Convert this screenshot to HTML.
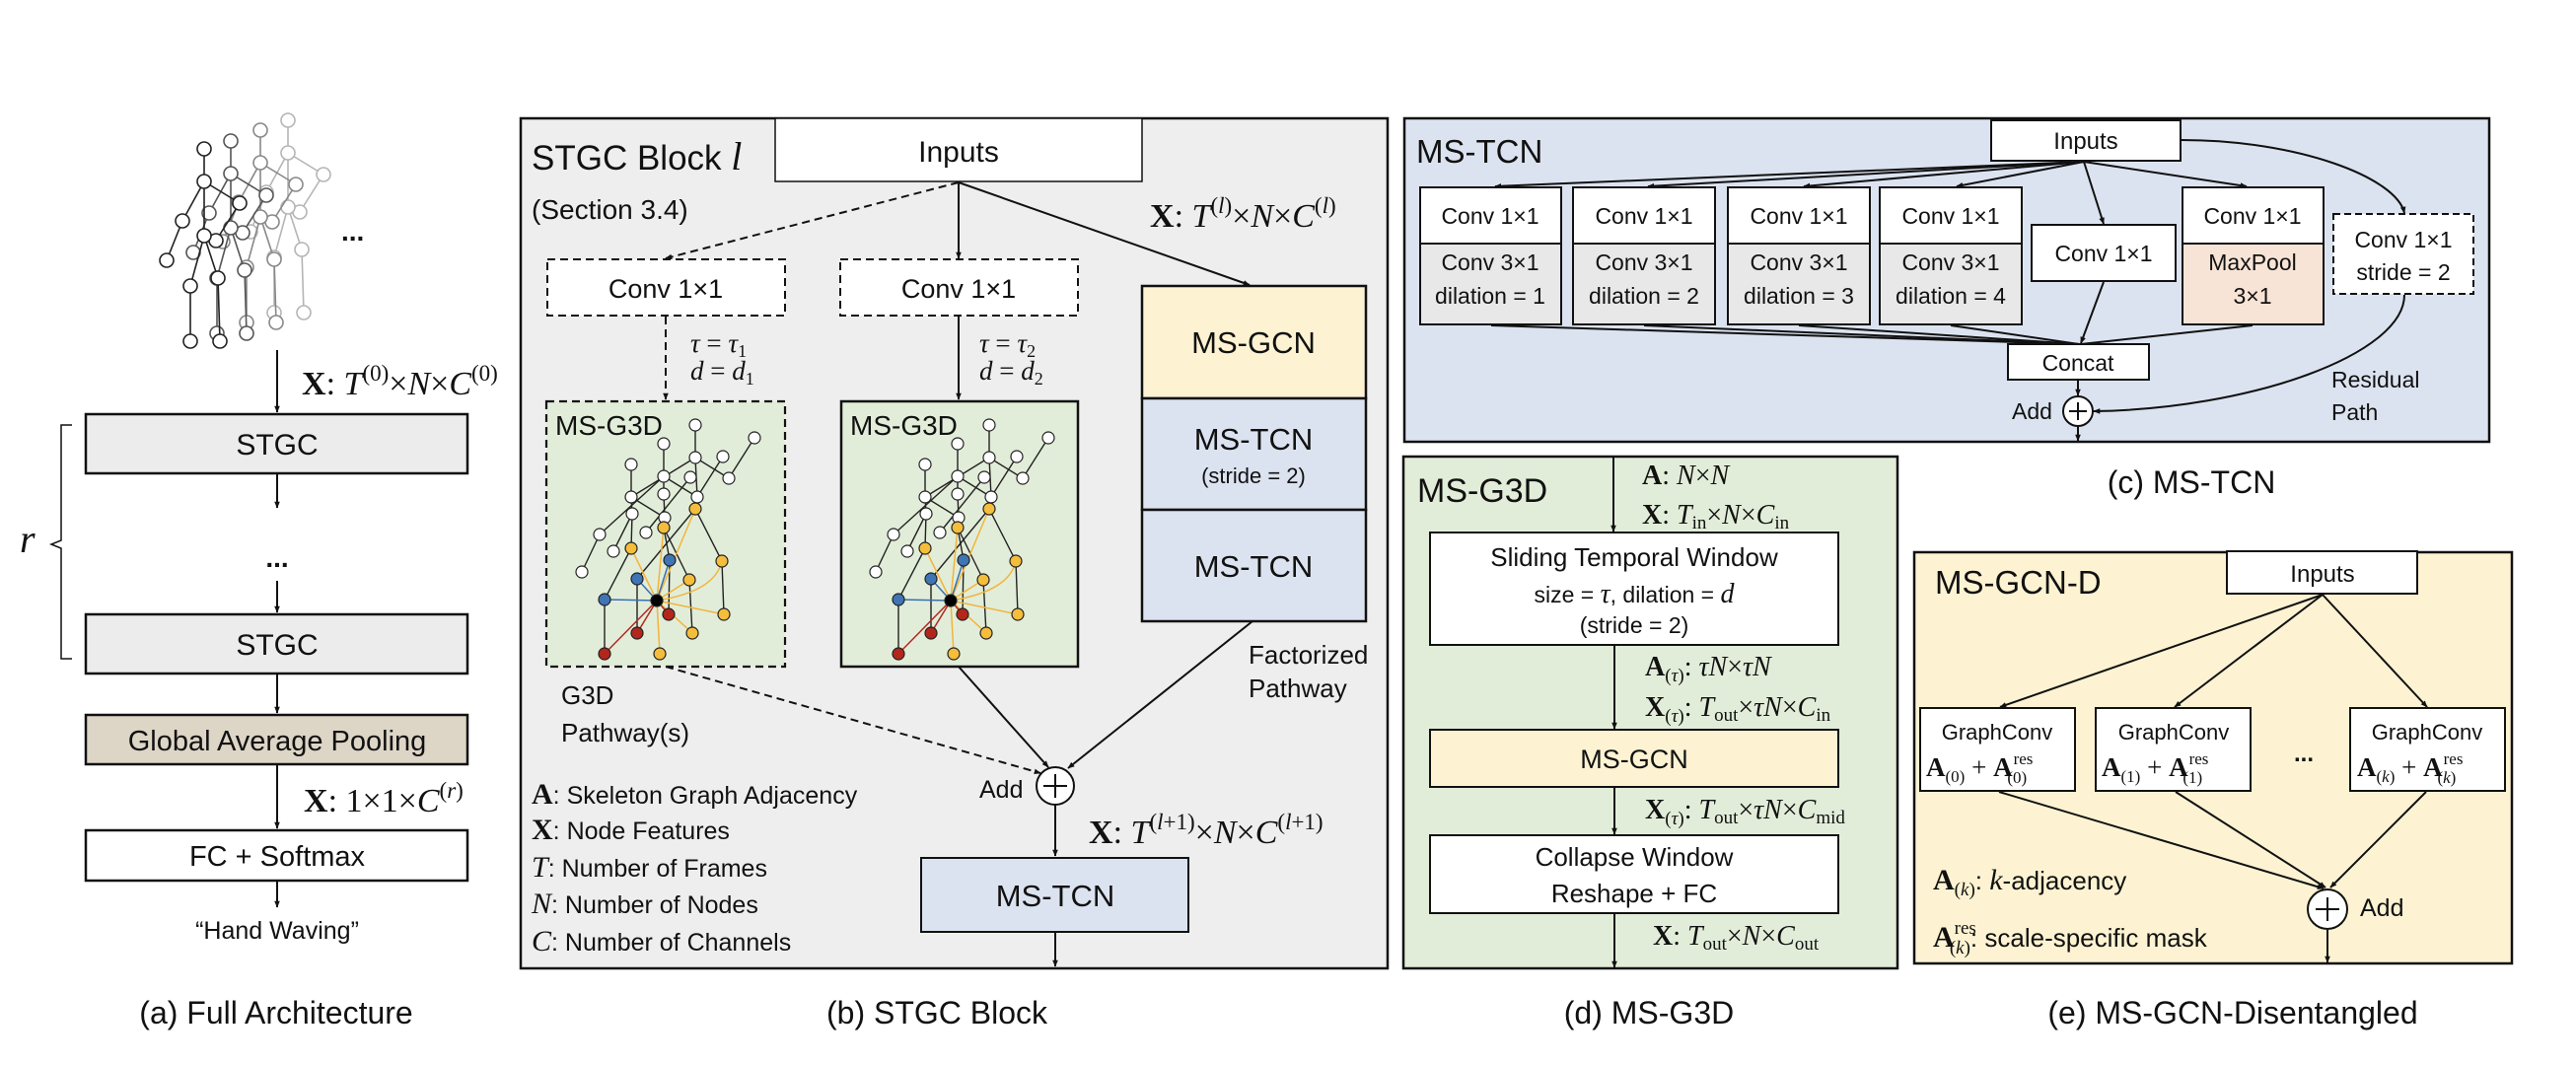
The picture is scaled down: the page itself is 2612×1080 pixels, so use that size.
<!DOCTYPE html>
<html><head><meta charset="utf-8"><style>
html,body{margin:0;padding:0;background:#fff}
svg{display:block}
text{font-family:"Liberation Sans",sans-serif;fill:#111}
.m{font-family:"Liberation Serif",serif;font-style:italic}
.b{font-family:"Liberation Serif",serif;font-weight:bold;font-style:normal}
.r{font-family:"Liberation Serif",serif;font-style:normal}
</style></head><body>
<svg width="2612" height="1080" viewBox="0 0 2612 1080" xmlns="http://www.w3.org/2000/svg">
<defs>
<marker id="a" viewBox="0 0 10 10" refX="9" refY="5" markerWidth="7" markerHeight="7" orient="auto" markerUnits="userSpaceOnUse"><path d="M0,1 L10,5 L0,9 z" fill="#111"/></marker>
<g id="fig">
<g stroke-width="1.6" fill="none">
<line x1="0" y1="-33" x2="0" y2="0"/><line x1="0" y1="0" x2="-22" y2="40"/><line x1="-22" y1="40" x2="-38" y2="80"/>
<line x1="0" y1="0" x2="36" y2="22"/><line x1="0" y1="0" x2="0" y2="55"/>
<line x1="0" y1="55" x2="-14" y2="106"/><line x1="-14" y1="106" x2="-14" y2="162"/>
<line x1="0" y1="55" x2="14" y2="98"/><line x1="14" y1="98" x2="16" y2="162"/>
<line x1="36" y1="22" x2="12" y2="60"/>
</g>
<g fill="#fff" stroke-width="1.6">
<circle cx="0" cy="-33" r="7"/><circle cx="0" cy="0" r="7"/><circle cx="-22" cy="40" r="7"/><circle cx="-38" cy="80" r="7"/><circle cx="36" cy="22" r="7"/><circle cx="12" cy="60" r="7"/><circle cx="0" cy="55" r="7"/><circle cx="-14" cy="106" r="7"/><circle cx="-14" cy="162" r="7"/><circle cx="14" cy="98" r="7"/><circle cx="16" cy="162" r="7"/>
</g>
</g>
<g id="g3d">
<g stroke="#222" stroke-width="1.4" fill="none">
<path d="M705,431 L705,464 L739,485 L765,444"/><path d="M705,464 L640,504"/><path d="M705,464 L707,504"/><path d="M733,463 L707,504"/>
<path d="M673,450 L673,483 L673,501 L674,525"/><path d="M673,483 L707,504"/><path d="M673,483 L608,542 L590,580"/><path d="M700,484 L655,540"/>
<path d="M640,471 L640,504 L641,521 L640,556"/><path d="M640,504 L674,525"/><path d="M641,521 L622,559"/>
<path d="M707,504 L705,516 L732,569 L734,623"/><path d="M674,525 L673,535 L699,588 L702,642"/><path d="M705,516 L646,587"/>
<path d="M640,556 L613,608 L613,663"/><path d="M679,568 L678,623"/><path d="M646,587 L646,642"/><path d="M673,535 L679,568"/>
</g>
<g stroke="#f2b43a" stroke-width="1.5" fill="none">
<path d="M666,609 L705,516 M666,609 L673,535 M666,609 L640,556 M666,609 Q725,600 732,569 M666,609 L699,588 M666,609 L734,623 M666,609 L702,642 M666,609 L669,663"/>
</g>
<g stroke="#3a6fb0" stroke-width="1.5"><path d="M666,609 L679,568 M666,609 L646,587 M666,609 L613,608"/></g>
<g stroke="#b02a20" stroke-width="1.5"><path d="M666,609 L678,623 M666,609 L646,642 M666,609 L613,663"/></g>
<g stroke="#222" stroke-width="1.2">
<g fill="#fff"><circle cx="705" cy="431" r="6"/><circle cx="673" cy="450" r="6"/><circle cx="765" cy="444" r="6"/><circle cx="640" cy="471" r="6"/><circle cx="705" cy="464" r="6"/><circle cx="733" cy="463" r="6"/><circle cx="739" cy="485" r="6"/><circle cx="673" cy="483" r="6"/><circle cx="700" cy="484" r="6"/><circle cx="640" cy="504" r="6"/><circle cx="673" cy="501" r="6"/><circle cx="707" cy="504" r="6"/><circle cx="641" cy="521" r="6"/><circle cx="674" cy="525" r="6"/><circle cx="608" cy="542" r="6"/><circle cx="655" cy="540" r="6"/><circle cx="622" cy="559" r="6"/><circle cx="590" cy="580" r="6"/></g>
<g fill="#f5bd3c"><circle cx="705" cy="516" r="6"/><circle cx="673" cy="535" r="6"/><circle cx="640" cy="556" r="6"/><circle cx="732" cy="569" r="6"/><circle cx="699" cy="588" r="6"/><circle cx="734" cy="623" r="6"/><circle cx="702" cy="642" r="6"/><circle cx="669" cy="663" r="6"/></g>
<g fill="#3f74b5"><circle cx="679" cy="568" r="6"/><circle cx="646" cy="587" r="6"/><circle cx="613" cy="608" r="6"/></g>
<g fill="#b3261c"><circle cx="678" cy="623" r="6"/><circle cx="646" cy="642" r="6"/><circle cx="613" cy="663" r="6"/></g>
<circle cx="666" cy="609" r="6" fill="#000"/>
</g>
</g>
</defs>

<!-- ========== (a) ========== -->
<use href="#fig" x="292" y="155" stroke="#b5b5b5"/>
<use href="#fig" x="264" y="165" stroke="#888"/>
<use href="#fig" x="234" y="176" stroke="#555"/>
<use href="#fig" x="207" y="184" stroke="#222"/>
<text x="346" y="244" font-size="28" font-weight="bold">...</text>
<g stroke="#111" stroke-width="2" fill="none">
<line x1="281" y1="355" x2="281" y2="418" marker-end="url(#a)"/>
<line x1="281" y1="481" x2="281" y2="515" marker-end="url(#a)"/>
<line x1="281" y1="589" x2="281" y2="621" marker-end="url(#a)"/>
<line x1="281" y1="684" x2="281" y2="723" marker-end="url(#a)"/>
<line x1="281" y1="776" x2="281" y2="840" marker-end="url(#a)"/>
<line x1="281" y1="894" x2="281" y2="920" marker-end="url(#a)"/>
<path d="M73,431 L62,431 L62,548 L52,552 L62,556 L62,668 L73,668" stroke-width="1.5"/>
</g>
<text x="306" y="400" font-size="34"><tspan class="b">X</tspan><tspan class="r">: </tspan><tspan class="m">T</tspan><tspan class="r" font-size="23" dy="-14">(0)</tspan><tspan class="r" dy="14">×</tspan><tspan class="m">N</tspan><tspan class="r">×</tspan><tspan class="m">C</tspan><tspan class="r" font-size="23" dy="-14">(0)</tspan></text>
<rect x="87" y="420" width="387" height="60" fill="#ececec" stroke="#111" stroke-width="2.5"/>
<text x="281" y="461" font-size="30" text-anchor="middle">STGC</text>
<text x="281" y="575" font-size="28" font-weight="bold" text-anchor="middle">...</text>
<rect x="87" y="623" width="387" height="60" fill="#ececec" stroke="#111" stroke-width="2.5"/>
<text x="281" y="664" font-size="30" text-anchor="middle">STGC</text>
<rect x="87" y="725" width="387" height="50" fill="#ddd5c6" stroke="#111" stroke-width="2.5"/>
<text x="281" y="761" font-size="29" text-anchor="middle">Global Average Pooling</text>
<text x="308" y="823" font-size="34"><tspan class="b">X</tspan><tspan class="r">: 1×1×</tspan><tspan class="m">C</tspan><tspan class="r" font-size="23" dy="-14">(</tspan><tspan class="m" font-size="23">r</tspan><tspan class="r" font-size="23">)</tspan></text>
<rect x="87" y="842" width="387" height="51" fill="#fff" stroke="#111" stroke-width="2.5"/>
<text x="281" y="878" font-size="29" text-anchor="middle">FC + Softmax</text>
<text x="281" y="952" font-size="25" text-anchor="middle">“Hand Waving”</text>
<text x="20" y="560" font-size="40" class="m">r</text>
<text x="280" y="1038" font-size="32" text-anchor="middle">(a) Full Architecture</text>

<!-- ========== (b) ========== -->
<rect x="528" y="120" width="879" height="862" fill="#eeeeee" stroke="#111" stroke-width="2.5"/>
<rect x="786" y="120" width="372" height="64" fill="#fff" stroke="#111" stroke-width="1.5"/>
<text x="972" y="164" font-size="30" text-anchor="middle">Inputs</text>
<text x="539" y="172" font-size="35">STGC Block <tspan class="m" font-size="40">l</tspan></text>
<text x="539" y="222" font-size="28">(Section 3.4)</text>
<text x="1166" y="230" font-size="34"><tspan class="b">X</tspan><tspan class="r">: </tspan><tspan class="m">T</tspan><tspan class="r" font-size="23" dy="-14">(</tspan><tspan class="m" font-size="23">l</tspan><tspan class="r" font-size="23">)</tspan><tspan class="r" dy="14">×</tspan><tspan class="m">N</tspan><tspan class="r">×</tspan><tspan class="m">C</tspan><tspan class="r" font-size="23" dy="-14">(</tspan><tspan class="m" font-size="23">l</tspan><tspan class="r" font-size="23">)</tspan></text>
<g stroke="#111" stroke-width="2" fill="none">
<line x1="972" y1="185" x2="675" y2="262" stroke-dasharray="8,5" marker-end="url(#a)"/>
<line x1="972" y1="185" x2="972" y2="262" marker-end="url(#a)"/>
<line x1="972" y1="185" x2="1267" y2="289" marker-end="url(#a)"/>
<line x1="675" y1="321" x2="675" y2="405" stroke-dasharray="8,5" marker-end="url(#a)"/>
<line x1="972" y1="321" x2="972" y2="405" marker-end="url(#a)"/>
<line x1="675" y1="676" x2="1055" y2="784" stroke-dasharray="8,5" marker-end="url(#a)"/>
<line x1="972" y1="676" x2="1063" y2="778" marker-end="url(#a)"/>
<line x1="1270" y1="630" x2="1083" y2="779" marker-end="url(#a)"/>
<line x1="1070" y1="816" x2="1070" y2="868" marker-end="url(#a)"/>
<line x1="1070" y1="945" x2="1070" y2="980" marker-end="url(#a)"/>
</g>
<rect x="555" y="263" width="241" height="57" fill="#fff" stroke="#111" stroke-width="2" stroke-dasharray="8,5"/>
<text x="675" y="302" font-size="27" text-anchor="middle">Conv 1×1</text>
<rect x="852" y="263" width="241" height="57" fill="#fff" stroke="#111" stroke-width="2" stroke-dasharray="8,5"/>
<text x="972" y="302" font-size="27" text-anchor="middle">Conv 1×1</text>
<text x="700" y="357" font-size="27" class="m">τ <tspan class="r">=</tspan> τ<tspan class="r" font-size="18" dy="5">1</tspan></text>
<text x="700" y="385" font-size="27" class="m">d <tspan class="r">=</tspan> d<tspan class="r" font-size="18" dy="5">1</tspan></text>
<text x="993" y="357" font-size="27" class="m">τ <tspan class="r">=</tspan> τ<tspan class="r" font-size="18" dy="5">2</tspan></text>
<text x="993" y="385" font-size="27" class="m">d <tspan class="r">=</tspan> d<tspan class="r" font-size="18" dy="5">2</tspan></text>
<rect x="554" y="407" width="242" height="269" fill="#e2edd9" stroke="#111" stroke-width="2.2" stroke-dasharray="8,5"/>
<rect x="853" y="407" width="240" height="269" fill="#e2edd9" stroke="#111" stroke-width="2.5"/>
<text x="563" y="441" font-size="28">MS-G3D</text>
<text x="862" y="441" font-size="28">MS-G3D</text>
<use href="#g3d"/>
<use href="#g3d" x="298"/>
<rect x="1158" y="290" width="227" height="114" fill="#fdf3d2" stroke="#111" stroke-width="2.5"/>
<rect x="1158" y="404" width="227" height="113" fill="#dce3f0" stroke="#111" stroke-width="2.5"/>
<rect x="1158" y="517" width="227" height="113" fill="#dce3f0" stroke="#111" stroke-width="2.5"/>
<text x="1271" y="358" font-size="31" text-anchor="middle">MS-GCN</text>
<text x="1271" y="456" font-size="31" text-anchor="middle">MS-TCN</text>
<text x="1271" y="490" font-size="22" text-anchor="middle">(stride = 2)</text>
<text x="1271" y="585" font-size="31" text-anchor="middle">MS-TCN</text>
<text x="1266" y="673" font-size="26">Factorized</text>
<text x="1266" y="707" font-size="26">Pathway</text>
<text x="569" y="714" font-size="26">G3D</text>
<text x="569" y="752" font-size="26">Pathway(s)</text>
<circle cx="1070" cy="797" r="19" fill="#fff" stroke="#111" stroke-width="2"/>
<path d="M1058,797 H1082 M1070,785 V809" stroke="#111" stroke-width="2"/>
<text x="993" y="809" font-size="25">Add</text>
<text x="1104" y="855" font-size="34"><tspan class="b">X</tspan><tspan class="r">: </tspan><tspan class="m">T</tspan><tspan class="r" font-size="23" dy="-14">(</tspan><tspan class="m" font-size="23">l</tspan><tspan class="r" font-size="23">+1)</tspan><tspan class="r" dy="14">×</tspan><tspan class="m">N</tspan><tspan class="r">×</tspan><tspan class="m">C</tspan><tspan class="r" font-size="23" dy="-14">(</tspan><tspan class="m" font-size="23">l</tspan><tspan class="r" font-size="23">+1)</tspan></text>
<rect x="934" y="870" width="271" height="75" fill="#dce3f0" stroke="#111" stroke-width="2"/>
<text x="1070" y="919" font-size="31" text-anchor="middle">MS-TCN</text>
<g font-size="25">
<text x="539" y="815"><tspan class="b" font-size="30">A</tspan>: Skeleton Graph Adjacency</text>
<text x="539" y="851"><tspan class="b" font-size="30">X</tspan>: Node Features</text>
<text x="539" y="889"><tspan class="m" font-size="30">T</tspan>: Number of Frames</text>
<text x="539" y="926"><tspan class="m" font-size="30">N</tspan>: Number of Nodes</text>
<text x="539" y="964"><tspan class="m" font-size="30">C</tspan>: Number of Channels</text>
</g>
<text x="950" y="1038" font-size="32" text-anchor="middle">(b) STGC Block</text>

<!-- ========== (c) ========== -->
<rect x="1424" y="120" width="1100" height="328" fill="#dce3f0" stroke="#111" stroke-width="2.5"/>
<text x="1436" y="165" font-size="33">MS-TCN</text>
<g stroke="#111" stroke-width="2" fill="none">
<line x1="2113" y1="164" x2="1516" y2="189" marker-end="url(#a)"/>
<line x1="2113" y1="164" x2="1671" y2="189" marker-end="url(#a)"/>
<line x1="2113" y1="164" x2="1829" y2="189" marker-end="url(#a)"/>
<line x1="2113" y1="164" x2="1984" y2="189" marker-end="url(#a)"/>
<line x1="2113" y1="164" x2="2133" y2="227" marker-end="url(#a)"/>
<line x1="2113" y1="164" x2="2278" y2="189" marker-end="url(#a)"/>
<path d="M2212,142 C2330,142 2430,180 2438,216" marker-end="url(#a)"/>
<line x1="1512" y1="330" x2="2108" y2="349"/>
<line x1="1667" y1="330" x2="2108" y2="349"/>
<line x1="1824" y1="330" x2="2108" y2="349"/>
<line x1="1978" y1="330" x2="2108" y2="349"/>
<line x1="2133" y1="286" x2="2110" y2="348" marker-end="url(#a)"/>
<line x1="2284" y1="330" x2="2110" y2="349"/>
<line x1="2107" y1="385" x2="2107" y2="401" marker-end="url(#a)"/>
<path d="M2438,299 C2438,360 2280,415 2123,417" marker-end="url(#a)"/>
<line x1="2107" y1="432" x2="2107" y2="447" marker-end="url(#a)"/>
</g>
<rect x="2019" y="122" width="192" height="41" fill="#fff" stroke="#111" stroke-width="2"/>
<text x="2115" y="151" font-size="24" text-anchor="middle">Inputs</text>
<g stroke="#111" stroke-width="2">
<rect x="1440" y="190" width="143" height="57" fill="#fff"/><rect x="1440" y="247" width="143" height="82" fill="#e8e8e8"/>
<rect x="1595" y="190" width="144" height="57" fill="#fff"/><rect x="1595" y="247" width="144" height="82" fill="#e8e8e8"/>
<rect x="1752" y="190" width="144" height="57" fill="#fff"/><rect x="1752" y="247" width="144" height="82" fill="#e8e8e8"/>
<rect x="1906" y="190" width="144" height="57" fill="#fff"/><rect x="1906" y="247" width="144" height="82" fill="#e8e8e8"/>
<rect x="2060" y="228" width="146" height="57" fill="#fff"/>
<rect x="2213" y="190" width="143" height="57" fill="#fff"/><rect x="2213" y="247" width="143" height="82" fill="#f8e4d6"/>
<rect x="2366" y="217" width="142" height="81" fill="#fff" stroke-dasharray="7,4"/>
<rect x="2036" y="349" width="143" height="36" fill="#fff"/>
</g>
<g font-size="23" text-anchor="middle">
<text x="1511" y="227">Conv 1×1</text><text x="1511" y="274">Conv 3×1</text><text x="1511" y="308">dilation = 1</text>
<text x="1667" y="227">Conv 1×1</text><text x="1667" y="274">Conv 3×1</text><text x="1667" y="308">dilation = 2</text>
<text x="1824" y="227">Conv 1×1</text><text x="1824" y="274">Conv 3×1</text><text x="1824" y="308">dilation = 3</text>
<text x="1978" y="227">Conv 1×1</text><text x="1978" y="274">Conv 3×1</text><text x="1978" y="308">dilation = 4</text>
<text x="2133" y="265">Conv 1×1</text>
<text x="2284" y="227">Conv 1×1</text><text x="2284" y="274">MaxPool</text><text x="2284" y="308">3×1</text>
<text x="2437" y="251">Conv 1×1</text><text x="2437" y="284">stride = 2</text>
<text x="2107" y="376">Concat</text>
</g>
<circle cx="2107" cy="417" r="15" fill="#fff" stroke="#111" stroke-width="2"/>
<path d="M2098,417 H2116 M2107,408 V426" stroke="#111" stroke-width="2"/>
<text x="2040" y="425" font-size="23">Add</text>
<text x="2364" y="393" font-size="23">Residual</text>
<text x="2364" y="426" font-size="23">Path</text>
<text x="2222" y="500" font-size="32" text-anchor="middle">(c) MS-TCN</text>

<!-- ========== (d) ========== -->
<rect x="1423" y="463" width="501" height="519" fill="#e2edd9" stroke="#111" stroke-width="2.5"/>
<text x="1437" y="509" font-size="34">MS-G3D</text>
<g stroke="#111" stroke-width="2" fill="none">
<line x1="1636" y1="464" x2="1636" y2="539" marker-end="url(#a)"/>
<line x1="1637" y1="655" x2="1637" y2="739" marker-end="url(#a)"/>
<line x1="1637" y1="799" x2="1637" y2="846" marker-end="url(#a)"/>
<line x1="1637" y1="927" x2="1637" y2="981" marker-end="url(#a)"/>
</g>
<rect x="1450" y="540" width="414" height="114" fill="#fff" stroke="#111" stroke-width="2"/>
<rect x="1450" y="740" width="414" height="58" fill="#fdf3d2" stroke="#111" stroke-width="2"/>
<rect x="1450" y="847" width="414" height="79" fill="#fff" stroke="#111" stroke-width="2"/>
<g text-anchor="middle">
<text x="1657" y="574" font-size="26">Sliding Temporal Window</text>
<text x="1657" y="611" font-size="23">size = <tspan class="m" font-size="28">τ</tspan>, dilation = <tspan class="m" font-size="28">d</tspan></text>
<text x="1657" y="642" font-size="23">(stride = 2)</text>
<text x="1657" y="779" font-size="27">MS-GCN</text>
<text x="1657" y="878" font-size="26">Collapse Window</text>
<text x="1657" y="915" font-size="26">Reshape + FC</text>
</g>
<g font-size="28">
<text x="1665" y="491"><tspan class="b">A</tspan><tspan class="r">: </tspan><tspan class="m">N</tspan><tspan class="r">×</tspan><tspan class="m">N</tspan></text>
<text x="1665" y="531"><tspan class="b">X</tspan><tspan class="r">: </tspan><tspan class="m">T</tspan><tspan class="r" font-size="19" dy="5">in</tspan><tspan class="r" dy="-5">×</tspan><tspan class="m">N</tspan><tspan class="r">×</tspan><tspan class="m">C</tspan><tspan class="r" font-size="19" dy="5">in</tspan></text>
<text x="1668" y="685"><tspan class="b">A</tspan><tspan class="r" font-size="19" dy="6">(</tspan><tspan class="m" font-size="19">τ</tspan><tspan class="r" font-size="19">)</tspan><tspan class="r" dy="-6">: </tspan><tspan class="m">τN</tspan><tspan class="r">×</tspan><tspan class="m">τN</tspan></text>
<text x="1668" y="726"><tspan class="b">X</tspan><tspan class="r" font-size="19" dy="6">(</tspan><tspan class="m" font-size="19">τ</tspan><tspan class="r" font-size="19">)</tspan><tspan class="r" dy="-6">: </tspan><tspan class="m">T</tspan><tspan class="r" font-size="19" dy="5">out</tspan><tspan class="r" dy="-5">×</tspan><tspan class="m">τN</tspan><tspan class="r">×</tspan><tspan class="m">C</tspan><tspan class="r" font-size="19" dy="5">in</tspan></text>
<text x="1668" y="830"><tspan class="b">X</tspan><tspan class="r" font-size="19" dy="6">(</tspan><tspan class="m" font-size="19">τ</tspan><tspan class="r" font-size="19">)</tspan><tspan class="r" dy="-6">: </tspan><tspan class="m">T</tspan><tspan class="r" font-size="19" dy="5">out</tspan><tspan class="r" dy="-5">×</tspan><tspan class="m">τN</tspan><tspan class="r">×</tspan><tspan class="m">C</tspan><tspan class="r" font-size="19" dy="5">mid</tspan></text>
<text x="1676" y="958"><tspan class="b">X</tspan><tspan class="r">: </tspan><tspan class="m">T</tspan><tspan class="r" font-size="19" dy="5">out</tspan><tspan class="r" dy="-5">×</tspan><tspan class="m">N</tspan><tspan class="r">×</tspan><tspan class="m">C</tspan><tspan class="r" font-size="19" dy="5">out</tspan></text>
</g>
<text x="1672" y="1038" font-size="32" text-anchor="middle">(d) MS-G3D</text>

<!-- ========== (e) ========== -->
<rect x="1941" y="560" width="606" height="417" fill="#fdf3d2" stroke="#111" stroke-width="2.5"/>
<text x="1962" y="602" font-size="33">MS-GCN-D</text>
<g stroke="#111" stroke-width="2" fill="none">
<line x1="2355" y1="603" x2="2028" y2="717" marker-end="url(#a)"/>
<line x1="2355" y1="603" x2="2205" y2="717" marker-end="url(#a)"/>
<line x1="2355" y1="603" x2="2461" y2="717" marker-end="url(#a)"/>
<line x1="2027" y1="803" x2="2356" y2="901" marker-end="url(#a)"/>
<line x1="2206" y1="803" x2="2358" y2="900" marker-end="url(#a)"/>
<line x1="2460" y1="803" x2="2363" y2="900" marker-end="url(#a)"/>
<line x1="2360" y1="943" x2="2360" y2="976" marker-end="url(#a)"/>
</g>
<rect x="2258" y="559" width="193" height="43" fill="#fff" stroke="#111" stroke-width="2"/>
<text x="2355" y="590" font-size="24" text-anchor="middle">Inputs</text>
<g stroke="#111" stroke-width="2" fill="#fff">
<rect x="1947" y="718" width="157" height="84"/><rect x="2125" y="718" width="157" height="84"/><rect x="2383" y="718" width="157" height="84"/>
</g>
<g font-size="22" text-anchor="middle">
<text x="2025" y="750">GraphConv</text><text x="2204" y="750">GraphConv</text><text x="2461" y="750">GraphConv</text>
</g>
<g font-size="27">
<text x="1953" y="787"><tspan class="b">A</tspan><tspan class="r" font-size="17" dy="6">(0)</tspan><tspan class="r" dy="-6"> + </tspan><tspan class="b">A</tspan><tspan class="r" font-size="17" dx="1" dy="-12">res</tspan><tspan class="r" font-size="17" dx="-26" dy="19">(0)</tspan></text>
<text x="2131" y="787"><tspan class="b">A</tspan><tspan class="r" font-size="17" dy="6">(1)</tspan><tspan class="r" dy="-6"> + </tspan><tspan class="b">A</tspan><tspan class="r" font-size="17" dx="1" dy="-12">res</tspan><tspan class="r" font-size="17" dx="-26" dy="19">(1)</tspan></text>
<text x="2390" y="787"><tspan class="b">A</tspan><tspan class="r" font-size="17" dy="6">(</tspan><tspan class="m" font-size="17">k</tspan><tspan class="r" font-size="17">)</tspan><tspan class="r" dy="-6"> + </tspan><tspan class="b">A</tspan><tspan class="r" font-size="17" dx="1" dy="-12">res</tspan><tspan class="r" font-size="17" dx="-26" dy="19">(</tspan><tspan class="m" font-size="17">k</tspan><tspan class="r" font-size="17">)</tspan></text>
</g>
<text x="2326" y="772" font-size="24" font-weight="bold">...</text>
<circle cx="2360" cy="922" r="20" fill="#fff" stroke="#111" stroke-width="2"/>
<path d="M2348,922 H2372 M2360,910 V934" stroke="#111" stroke-width="2"/>
<text x="2393" y="929" font-size="25">Add</text>
<text x="1960" y="902" font-size="26"><tspan class="b" font-size="30">A</tspan><tspan class="r" font-size="19" dy="6">(</tspan><tspan class="m" font-size="19">k</tspan><tspan class="r" font-size="19">)</tspan><tspan dy="-6">:  </tspan><tspan class="m" font-size="30">k</tspan>-adjacency</text>
<text x="1960" y="960" font-size="26"><tspan class="b" font-size="30">A</tspan><tspan class="r" font-size="19" dy="-13">res</tspan><tspan class="r" font-size="19" dx="-27" dy="20">(</tspan><tspan class="m" font-size="19">k</tspan><tspan class="r" font-size="19">)</tspan><tspan dy="-7">: scale-specific mask</tspan></text>
<text x="2264" y="1038" font-size="32" text-anchor="middle">(e) MS-GCN-Disentangled</text>
</svg>
</body></html>
